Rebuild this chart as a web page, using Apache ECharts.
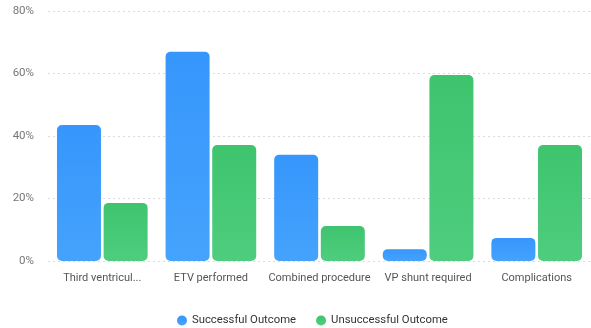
<!DOCTYPE html>
<html>
<head>
    <meta charset="utf-8">
    <script src="https://cdn.jsdelivr.net/npm/echarts@6/dist/echarts.min.js"></script>
    <style type="text/css">
        html, body { margin: 0; padding: 0; background: #fff; }
        #main { width: 591px; height: 328px; }
    </style>
</head>
<body>
    <div id="main"></div>
    <script>
        // data
        var categories = ['Third ventricul...', 'ETV performed', 'Combined procedure', 'VP shunt required', 'Complications'];
        var successful = [43.5, 67, 34, 3.8, 7.4];
        var unsuccessful = [18.6, 37.1, 11.2, 59.5, 37.1];
        var seriesNames = ['Successful Outcome', 'Unsuccessful Outcome'];

        var myChart = echarts.init(document.getElementById('main'));

        function grad(top, bottom) {
            return new echarts.graphic.LinearGradient(0, 0, 0, 1, [
                { offset: 0, color: top },
                { offset: 1, color: bottom }
            ]);
        }

        var option = {
            animation: false,
            textStyle: { fontFamily: 'Roboto, sans-serif' },
            legend: {
                bottom: -3,
                left: 172,
                icon: 'circle',
                itemWidth: 10,
                itemHeight: 10,
                itemGap: 20,
                textStyle: { color: '#333', fontSize: 11.3 },
                data: seriesNames
            },
            grid: {
                left: 48,
                width: 545,
                top: 11,
                bottom: 67
            },
            xAxis: {
                type: 'category',
                data: categories,
                axisLine: { show: false },
                axisTick: { show: false },
                axisLabel: { color: '#555', fontSize: 11, margin: 12, interval: 0 }
            },
            yAxis: {
                type: 'value',
                min: 0,
                max: 80,
                interval: 20,
                axisLabel: { formatter: '{value}%', color: '#777', fontSize: 11.5, margin: 14 },
                splitLine: { lineStyle: { type: [2, 3], color: '#dcdcdc' } }
            },
            series: [{
                name: seriesNames[0],
                type: 'bar',
                data: successful,
                barWidth: 44,
                barGap: '6%',
                itemStyle: { color: grad('#3696fb', '#45a3fd'), borderRadius: 5 }
            }, {
                name: seriesNames[1],
                type: 'bar',
                data: unsuccessful,
                barWidth: 44,
                itemStyle: { color: grad('#3fc46e', '#4ecd7e'), borderRadius: 5 }
            }],
            color: ['#3b9bfc', '#45c873']
        };
        myChart.setOption(option);
    </script>
</body>
</html>
